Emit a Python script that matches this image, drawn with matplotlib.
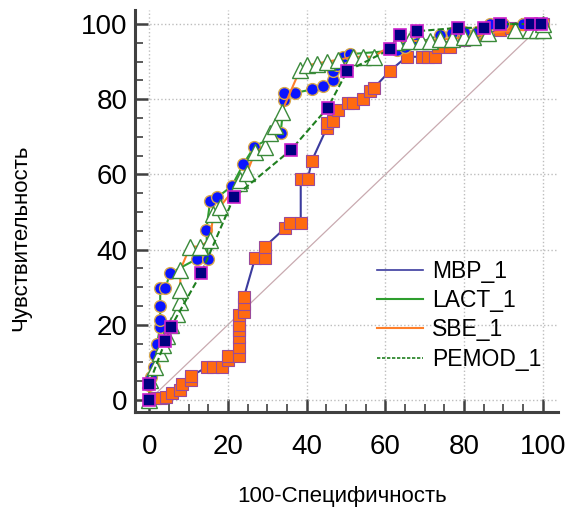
import matplotlib
matplotlib.use("Agg")
import matplotlib.pyplot as plt
from matplotlib.lines import Line2D

plt.rcParams['font.family'] = ['Liberation Sans', 'DejaVu Sans']

# MBP_1 (orange squares, navy line)
mbp_x = [0, 1.5, 3, 4.3, 5.8, 7.9, 8.3, 10.7, 10.7, 14.6, 16.2, 18.4, 20.1, 20.1, 22.7, 22.7,
         22.7, 22.7, 22.7, 22.7, 24.1, 24.1, 24.1, 26.9, 29.4, 29.4, 34.5, 35.8, 38.5, 38.5,
         40.3, 41.3, 45.1, 45.1, 46.6, 48, 50.6, 51.9, 54.4, 56.1, 57, 61.2, 65.4, 69.2, 70.9,
         72.6, 73.4, 76.4, 80, 85, 89, 92, 96, 100]
mbp_y = [0, 0.4, 0.4, 0.9, 1.8, 2.7, 4.3, 5.3, 6.4, 8.7, 8.7, 8.7, 10.6, 11.7, 11.7, 14,
         16.8, 18.5, 20, 22.6, 23.5, 25.5, 27.5, 37.7, 37.7, 40.8, 45.7, 47, 47, 58.8,
         58.8, 63.6, 72.3, 73.6, 74.3, 77.1, 78.9, 78.9, 80.2, 82.3, 82.9, 87.6, 91.3, 91.3, 91.3,
         91.3, 94, 94, 95.7, 97, 98.5, 99, 100, 100]

# LACT_1 (blue circles, green line)
lact_x = [0, 0, 0.5, 1.1, 1.5, 2, 2.8, 2.8, 2.8, 2.8, 4.1, 5.3, 12.1, 14.9, 14.5, 15.5, 17.3,
          21, 23.9, 26.7, 33.4, 34.3, 34.3, 37.1, 41.3, 44.1, 46.8, 46.8, 47.6, 49.3, 51,
          62.9, 65, 68, 73.9, 77, 80, 83.2, 86.5, 90, 95, 100]
lact_y = [0, 4, 6, 8.9, 12, 15, 19.5, 21.3, 25, 29.7, 29.7, 33.7, 37.5, 37.5, 45.2, 53, 53.9,
          56.9, 62.7, 67.4, 71.1, 79.8, 81.7, 81.7, 82.6, 83.5, 85.1, 87.6, 89.1, 91.3, 92,
          93, 94, 94.9, 97, 97.5, 98, 98, 100, 100, 100, 100]

# SBE_1 (white triangles, orange line)
sbe_x = [0, 0.3, 1.5, 2.8, 3.6, 4.5, 5.5, 7, 7.9, 7.9, 7.9, 10.4, 12.9, 15.5, 16.3, 18, 22.7,
         23.1, 24.8, 26.9, 29.4, 30.7, 32, 33.7, 38.3, 40, 42.6, 45.1, 48, 51.9, 54.4, 57,
         62.9, 66, 69, 71.3, 74, 77, 80, 82.3, 86, 92.9, 96.7, 98.5, 100, 100]
sbe_y = [0, 5.3, 8.9, 12.4, 14.6, 17, 20, 23, 26, 29.3, 34.6, 40.8, 40.8, 42.6, 49.6, 51.4, 57.6,
         58.5, 60.3, 66, 67.4, 70.9, 73, 76.7, 87.8, 89, 89.5, 90, 90.5, 91.3, 91.3, 91.3,
         95.3, 95.5, 95.5, 95.5, 96, 96, 96.5, 96.5, 97.5, 98.4, 98.4, 98.4, 98.4, 100]

# PEMOD_1 (navy squares, dashed green line)
pemod_x = [0, 0, 4.1, 5.5, 13.2, 21.5, 36, 45.4, 50.3, 61.2, 63.7, 68, 78.5, 85.1, 89.2, 97, 99.6]
pemod_y = [0, 4.3, 15.7, 19.4, 33.7, 53.9, 66.5, 77.8, 87.5, 93.3, 97.2, 98.1, 99, 99, 100, 100, 100]

labels = ["MBP_1", "LACT_1", "SBE_1", "PEMOD_1"]
line_cols = ["#3b3b9e", "#2e9e2e", "#ff7f2a", "#1f7f1f"]

fig = plt.figure(figsize=(5.68, 5.09), dpi=100)
ax = fig.add_axes([0.2377, 0.1906, 0.7443, 0.7894])

ax.plot([0, 100], [0, 100], color="#c9aab0", lw=0.9, zorder=1)

ax.plot(mbp_x, mbp_y, color=line_cols[0], lw=1.5, marker="s", ms=8,
        mfc="#ff6a10", mec="#9a4a9a", mew=0.8, zorder=3)
ax.plot(lact_x, lact_y, color=line_cols[1], lw=1.5, marker="o", ms=8.5,
        mfc="#0a14ff", mec="#d8a84a", mew=1.0, zorder=4)
ax.plot(sbe_x, sbe_y, color=line_cols[2], lw=1.5, marker="^", ms=11,
        mfc="white", mec="#3a8a3a", mew=1.0, zorder=5)
ax.plot(pemod_x, pemod_y, color=line_cols[3], lw=1.5, ls=(0, (3, 1.5)), marker="s", ms=9,
        mfc="#000080", mec="#cc22cc", mew=1.2, zorder=6)

ax.set_xlim(-3.6, 103.8)
ax.set_ylim(-3.2, 103.7)
ax.set_xticks([0, 20, 40, 60, 80, 100])
ax.set_yticks([0, 20, 40, 60, 80, 100])
ax.set_xticks(range(5, 100, 5), minor=True)
ax.set_yticks(range(5, 100, 5), minor=True)
ax.tick_params(which="major", direction="in", length=9.5, width=1.8, color="#404040",
               labelsize=20)
ax.tick_params(axis="x", which="major", pad=16)
ax.tick_params(axis="y", which="major", pad=5.5)
ax.tick_params(which="minor", direction="in", length=5.5, width=1.2, color="#404040")
ax.grid(True, which="major", color="#bdbdbd", ls=":", lw=1.0, zorder=0)
for s in ["top", "right"]:
    ax.spines[s].set_visible(False)
for s in ["left", "bottom"]:
    ax.spines[s].set_linewidth(2.2)
    ax.spines[s].set_color("#404040")

ax.set_xlabel("100-Специфичность", fontsize=16)
ax.xaxis.set_label_coords(0.49, -0.183)
ax.set_ylabel("Чувствительность", fontsize=16)
ax.yaxis.set_label_coords(-0.245, 0.433)

handles = [Line2D([], [], color=line_cols[0], lw=1.2),
           Line2D([], [], color=line_cols[1], lw=1.5),
           Line2D([], [], color=line_cols[2], lw=1.5),
           Line2D([], [], color=line_cols[3], lw=1.2, ls=(0, (2, 1)))]
leg = fig.legend(handles, labels, loc="upper left", bbox_to_anchor=(377 / 568, 1 - 260 / 509),
                 frameon=False, fontsize=16.5, handlelength=2.0, handletextpad=0.4,
                 labelspacing=0.27, borderpad=0, borderaxespad=0)

fig.savefig("out.png", dpi=100)
